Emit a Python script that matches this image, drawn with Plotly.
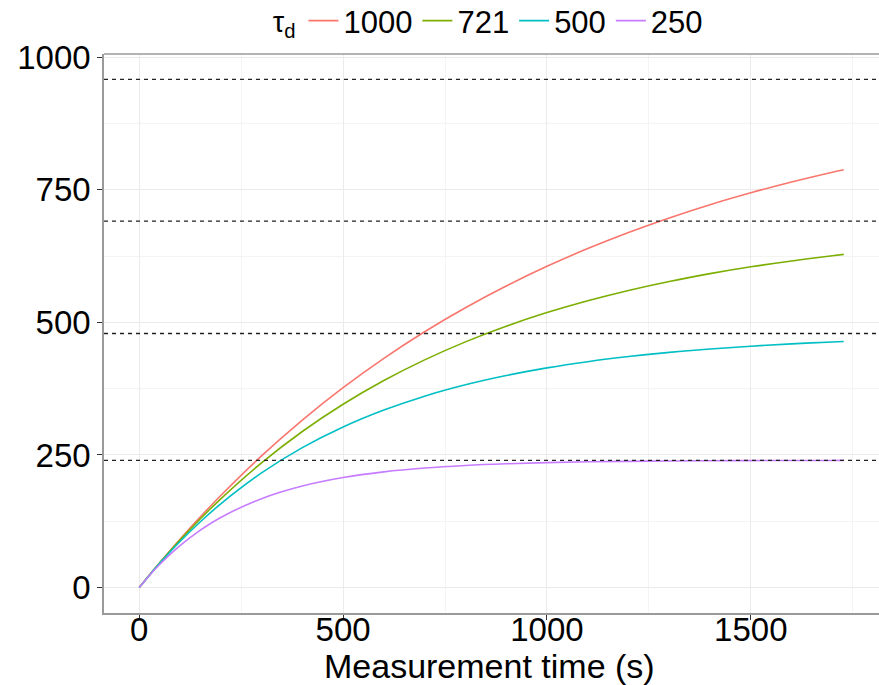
import plotly.graph_objects as go

# Measurement time (s)
time_s = [0, 25, 50, 100, 150, 200, 300, 400, 500, 600, 700, 800, 900, 1000,
          1100, 1200, 1300, 1400, 1500, 1600, 1700, 1728]

series_names = ["1000", "721", "500", "250"]
vals_1000 = [0, 23.7, 46.7, 91.2, 133.4, 173.7, 248.3, 315.8, 376.9, 432.2, 482.3,
             527.5, 568.5, 605.6, 639.1, 669.5, 696.9, 721.8, 744.2, 764.6, 783.0, 787.8]
vals_721 = [0, 23.5, 46.3, 89.5, 129.8, 167.4, 235.2, 294.3, 345.6, 390.3, 429.3,
            463.2, 492.7, 518.4, 540.7, 560.2, 577.1, 591.8, 604.7, 615.8, 625.6, 628.1]
vals_500 = [0, 23.4, 45.6, 86.8, 124.1, 157.9, 216.1, 263.8, 302.8, 334.7, 360.9,
            382.3, 399.8, 414.2, 425.9, 435.5, 443.4, 449.9, 455.1, 459.5, 463.0, 463.9]
vals_250 = [0, 22.8, 43.5, 79.1, 108.3, 132.2, 167.7, 191.5, 207.5, 218.2, 225.4,
            230.2, 233.4, 235.6, 237.1, 238.0, 238.7, 239.1, 239.4, 239.6, 239.7, 239.8]

# asymptote levels (dashed lines)
asymptotes = [958, 691, 479, 240]

colors = ["#F8766D", "#7CAE00", "#00BFC4", "#C77CFF"]

fig = go.Figure()
for name, vals, col in zip(series_names, [vals_1000, vals_721, vals_500, vals_250], colors):
    fig.add_trace(go.Scatter(x=time_s, y=vals, mode="lines", name=name,
                             line=dict(color=col, width=1.6, shape="spline")))

for a in asymptotes:
    fig.add_hline(y=a, line=dict(color="#222222", width=1.3, dash="4px,4px"))

W, H = 879, 685
PW, PH = 775, 559  # panel size in px
font = "Liberation Sans, Arial, sans-serif"
fig.update_layout(
    width=W, height=H,
    margin=dict(l=104, r=0, t=54, b=72, autoexpand=False),
    paper_bgcolor="white", plot_bgcolor="white",
    font=dict(family=font, size=33, color="black"),
    showlegend=True,
    legend=dict(orientation="h", x=0.497, xanchor="center",
                yref="container", y=1 - 21 / H, yanchor="middle",
                font=dict(size=31), title=dict(text="τ<sub>d</sub>", font=dict(size=29)),
                itemwidth=30, tracegroupgap=0, bgcolor="rgba(0,0,0,0)"),
    xaxis=dict(range=[-86.4, 1814.4], tickvals=[0, 500, 1000, 1500],
               automargin=False,
               showgrid=True, gridcolor="#EBEBEB", gridwidth=1.2,
               minor=dict(showgrid=True, gridcolor="#F4F4F4", gridwidth=0.8,
                          tickvals=[250, 750, 1250, 1750]),
               zeroline=False, showline=True, linecolor="#9A9A9A", linewidth=1.5,
               ticks="outside", ticklen=5, tickcolor="#333333", tickwidth=1,
               ticklabelstandoff=-18,
               tickfont=dict(size=33)),
    yaxis=dict(range=[-47.9, 1005.9], tickvals=[0, 250, 500, 750, 1000],
               automargin=False,
               showgrid=True, gridcolor="#EBEBEB", gridwidth=1.2,
               minor=dict(showgrid=True, gridcolor="#F4F4F4", gridwidth=0.8,
                          tickvals=[125, 375, 625, 875]),
               zeroline=False, showline=True, linecolor="#9A9A9A", linewidth=1.5,
               ticks="outside", ticklen=5, tickcolor="#333333", tickwidth=1,
               tickfont=dict(size=33)),
    annotations=[dict(text="Measurement time (s)", xref="paper", yref="paper",
                      x=0.498, y=-53 / PH, xanchor="center", yanchor="middle",
                      showarrow=False, font=dict(size=34))],
)
# top panel border
fig.add_shape(type="line", xref="paper", yref="paper", x0=0, x1=1, y0=1, y1=1,
              line=dict(color="#9A9A9A", width=1.5))

fig.write_html("out.html", config={"displayModeBar": False},
               post_script="document.body.style.margin='0';document.body.style.overflow='hidden';")
